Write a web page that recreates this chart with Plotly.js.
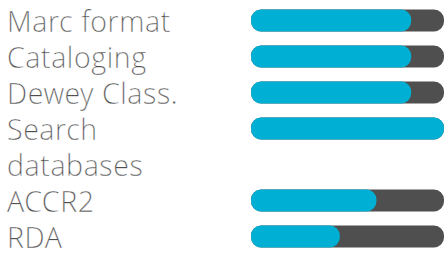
<!DOCTYPE html>
<html><head><meta charset="utf-8">
<script src="https://cdn.plot.ly/plotly-3.0.1.min.js"></script>
<style>html,body{margin:0;padding:0;background:#fff}#c{width:444px;height:255px}
.annotation-text{letter-spacing:0.6px;stroke:#ffffff;stroke-width:0.3px}</style>
</head><body><div id="c"></div>
<script>
const skills = ["Marc format", "Cataloging", "Dewey Class.", "Search databases", "ACCR2", "RDA"];
const labelLines = ["Marc format", "Cataloging", "Dewey Class.", "Search", "databases", "ACCR2", "RDA"];
const rowSlots = [0, 1, 2, 3, 5, 6];
const labelSlots = [0, 1, 2, 3, 4, 5, 6];
const levels = [83, 83, 83, 100, 65, 46];
const maxLevel = [100, 100, 100, 100, 100, 100];
const startAt = [0, 0, 0, 0, 0, 0];

function pill(vals, color){
  return {type:'bar', orientation:'h', y:rowSlots, x:vals, base:startAt,
    width:0.61, marker:{color:color, cornerradius:11}, hoverinfo:'skip'};
}

const annotations = labelLines.map((t,i)=>({
  text:t, xref:'paper', yref:'y', x:5/444, y:labelSlots[i], xanchor:'left', yanchor:'middle',
  showarrow:false, font:{family:'Open Sans Light, Open Sans', size:28.5, color:'#4f4f4f', weight:300}
}));

const layout = {
  width:444, height:255, margin:{l:0,r:0,t:0,b:0},
  paper_bgcolor:'#fff', plot_bgcolor:'#fff', barmode:'overlay', showlegend:false,
  xaxis:{domain:[251/444,1], range:[0,100], visible:false, fixedrange:true},
  yaxis:{range:[(255-20.5)/36, -20.5/36], visible:false, fixedrange:true},
  annotations:annotations
};
Plotly.newPlot('c', [pill(maxLevel,'#4f4f4f'), pill(levels,'#00b0d4')], layout, {displayModeBar:false, staticPlot:true});
</script></body></html>
